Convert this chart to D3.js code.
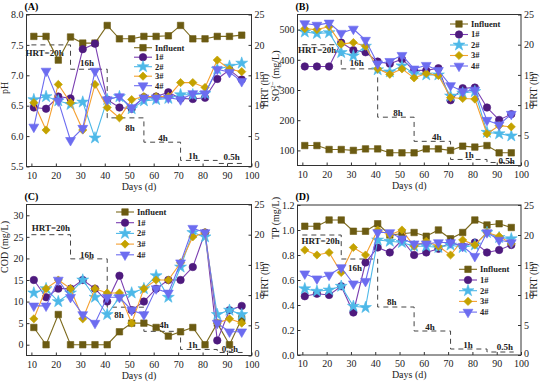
<!doctype html>
<html>
<head>
<style>
  body { margin: 0; background: #fff; }
  svg text { font-family: "Liberation Serif", "Times New Roman", serif; }
</style>
</head>
<body>
<svg width="550" height="384"></svg>
<script src="https://cdnjs.cloudflare.com/ajax/libs/d3/7.8.5/d3.min.js"></script>
<script>
// sampling days
var days = [11, 16, 21, 26, 31, 36, 41, 46, 51, 56, 61, 66, 71, 76, 81, 86, 91, 96];
var seriesNames = ["Influent", "1#", "2#", "3#", "4#"];

// HRT steps (right axis)
var hrtDays  = [10, 26, 41, 56, 71, 86, 97];
var hrtHours = [20, 16, 8, 4, 1, 0.5, 0.5];
var hrtText  = ["HRT=20h", "16h", "8h", "4h", "1h", "0.5h"];

// (A) pH
var phInf = [7.64, 7.64, 7.25, 7.63, 7.53, 7.53, 7.82, 7.6, 7.6, 7.64, 7.64, 7.65, 7.82, 7.6, 7.6, 7.64, 7.64, 7.66];
var ph1   = [6.47, 6.45, 6.65, 6.62, 7.43, 7.52, 6.6, 6.47, 6.45, 6.64, 6.65, 6.72, 6.62, 6.61, 6.63, 6.94, 7.09, 6.93];
var ph2   = [6.6, 6.65, 6.58, 6.52, 6.56, 5.97, 6.6, 6.65, 6.45, 6.58, 6.6, 6.62, 6.68, 6.68, 6.7, 7.1, 7.15, 7.2];
var ph3   = [6.55, 6.1, 6.85, 6.55, 6.1, 6.85, 6.47, 6.3, 6.6, 6.65, 6.65, 6.65, 6.88, 6.88, 6.8, 7.25, 7.1, 7.06];
var ph4   = [6.15, 7.07, 6.58, 5.93, 6.13, 7.07, 6.6, 6.65, 6.47, 6.63, 6.63, 6.63, 6.6, 6.7, 6.7, 7.1, 7.05, 6.9];

// (B) SO4 2-
var soInf = [116, 116, 103, 103, 100, 105, 105, 92, 92, 92, 105, 105, 100, 114, 111, 116, 92, 92];
var so1   = [378, 378, 378, 457, 432, 425, 394, 387, 402, 365, 365, 372, 266, 306, 308, 242, 201, 220];
var so2   = [492, 487, 490, 424, 413, 445, 367, 360, 380, 355, 350, 350, 280, 290, 295, 160, 155, 148];
var so3   = [503, 500, 510, 452, 457, 445, 370, 352, 370, 340, 355, 348, 275, 272, 270, 155, 182, 178];
var so4   = [520, 515, 522, 488, 502, 465, 387, 395, 415, 370, 382, 365, 315, 295, 300, 200, 185, 220];

// (C) COD
var codInf = [4, 0, 7, 0, 0, 0, 0, 3, 5, 5, 4, 2, 3, 4, 0, 5, 0, 6];
var cod1   = [15, 11, 13, 13, 15, 13, 10, 16, 8, 10, 13, 15, 15, 18, 26, 1, 8, 9];
var cod2   = [12, 13, 10, 12, 15, 11, 7, 11, 12, 13, 16, 11, 18, 26, 25, 7, 8, 7];
var cod3   = [6, 13, 15, 13, 6, 13, 12, 12, 5, 13, 15, 15, 19, 25, 26, 5, 6, 5];
var cod4   = [9, 9, 15, 11, 7, 5, 11, 11, 8, 7, 13, 12, 19, 27, 26, 5, 3, 3];

// (D) TP
var tpInf = [1.03, 1.03, 1.08, 1.08, 0.99, 0.99, 1.05, 0.96, 0.97, 0.98, 0.95, 1.0, 0.93, 0.98, 1.08, 1.04, 1.05, 1.02];
var tp1   = [0.47, 0.49, 0.48, 0.55, 0.34, 0.74, 0.86, 0.82, 0.92, 0.8, 0.82, 0.85, 0.9, 0.87, 0.9, 0.82, 0.84, 0.88];
var tp2   = [0.53, 0.51, 0.52, 0.55, 0.39, 0.38, 0.92, 0.91, 0.9, 0.87, 0.87, 0.86, 0.88, 0.86, 0.88, 0.98, 0.94, 0.93];
var tp3   = [0.84, 0.8, 0.82, 0.66, 0.86, 0.8, 1.0, 0.96, 1.0, 0.87, 0.91, 0.87, 0.8, 0.92, 0.88, 0.98, 0.95, 0.89];
var tp4   = [0.65, 0.61, 0.64, 0.7, 0.57, 0.59, 0.98, 0.98, 0.93, 0.89, 0.89, 0.9, 0.9, 0.87, 0.79, 0.98, 0.92, 0.9];

var styles = [
  { fill: "#6b5b12", line: "#7d6b1e", type: d3.symbolSquare, size: 42, rot: 0 },
  { fill: "#4e1a7e", line: "#7a3db0", type: d3.symbolCircle, size: 44, rot: 0 },
  { fill: "#4db8e8", line: "#4db8e8", type: d3.symbolStar, size: 44, rot: 0 },
  { fill: "#c4a200", line: "#f5a030", type: d3.symbolSquare, size: 34, rot: 45 },
  { fill: "#6c6cf0", line: "#6c6cf0", type: d3.symbolTriangle, size: 42, rot: 180 }
];

var panels = [
  { title: "(A)", box: [26.5, 251.5, 14.5, 166.5], ydom: [5.5, 8], yticks: d3.range(5.5, 8.01, 0.5), fmt: ".1f",
    ylabel: "pH", ylabelY: 88, series: [phInf, ph1, ph2, ph3, ph4], legend: [143, 47.7, 9.5],
    hrtPos: [[15.4, 18.7], [32.7, 17.0], [50.3, 6.3], [63.8, 4.7], [76.1, 1.7], [91.9, 1.6]] },
  { title: "(B)", box: [297.5, 521, 14.5, 165.5], ydom: [50, 550], yticks: d3.range(100, 501, 100), fmt: "d",
    ylabel: "so4", ylabelY: 76, series: [soInf, so1, so2, so3, so4], legend: [459, 24, 10.5],
    hrtPos: [[16.1, 19.1], [32.4, 17.0], [49.4, 8.7], [65.3, 4.8], [78.6, 1.74], [94.1, 0.75]] },
  { title: "(C)", box: [26.5, 251.5, 204.5, 355.5], ydom: [-2.5, 32.5], yticks: d3.range(0, 31, 5), fmt: "d",
    ylabel: "COD (mg/L)", ylabelY: 247, series: [codInf, cod1, cod2, cod3, cod4], legend: [125, 212, 10.7],
    hrtPos: [[18, 21.2], [32.7, 16.7], [45.8, 6.7], [64.2, 5.1], [76, 1.8], [91.2, 1.1]] },
  { title: "(D)", box: [297.5, 521, 205, 355], ydom: [0, 1.2], yticks: d3.range(0, 1.21, 0.2), fmt: ".1f",
    ylabel: "TP (mg/L)", ylabelY: 218, series: [tpInf, tp1, tp2, tp3, tp4], legend: [468, 269.3, 10.7],
    hrtPos: [[17.5, 19], [31.7, 14.5], [46.8, 8.8], [62.5, 4.7], [78.2, 1.7], [93.4, 1.3]] }
];

var svg = d3.select("svg");

function marker(g, st, x, y) {
  g.append("path")
    .attr("d", d3.symbol().type(st.type).size(st.size)())
    .attr("transform", "translate(" + x + "," + y + ") rotate(" + st.rot + ")")
    .attr("fill", st.fill)
    .attr("stroke", st.fill)
    .attr("stroke-width", 0.6);
}

panels.forEach(function(p) {
  var b = p.box;
  var x = d3.scaleLinear().domain([8, 100]).range([b[0], b[1]]);
  var y = d3.scaleLinear().domain(p.ydom).range([b[3], b[2]]);
  var yr = d3.scaleLinear().domain([0, 25]).range([b[3], b[2]]);
  var g = svg.append("g");

  // HRT step line
  var pts = hrtDays.map(function(d, i) { return [d, hrtHours[i]]; });
  g.append("path")
    .datum(pts)
    .attr("d", d3.line().curve(d3.curveStepAfter).x(function(d) { return x(d[0]); }).y(function(d) { return yr(d[1]); }))
    .attr("fill", "none")
    .attr("stroke", "#444")
    .attr("stroke-width", 1)
    .attr("stroke-dasharray", "5,4");

  hrtText.forEach(function(t, i) {
    g.append("text")
      .attr("x", x(p.hrtPos[i][0]))
      .attr("y", yr(p.hrtPos[i][1]))
      .attr("dy", "0.35em")
      .attr("text-anchor", "middle")
      .style("font-size", "9px")
      .style("font-weight", "bold")
      .attr("fill", "#222")
      .text(t);
  });

  // series
  p.series.forEach(function(vals, si) {
    var st = styles[si];
    var sg = g.append("g");
    sg.append("path")
      .datum(vals)
      .attr("d", d3.line().x(function(d, i) { return x(days[i]); }).y(function(d) { return y(d); }))
      .attr("fill", "none")
      .attr("stroke", st.line)
      .attr("stroke-width", 1.1);
    vals.forEach(function(v, i) { marker(sg, st, x(days[i]), y(v)); });
  });

  // axes
  var ax = function(a) {
    a.attr("font-family", null);
    a.selectAll("text").attr("fill", "#222").style("font-size", "10px");
    a.selectAll("line").attr("stroke", "#333");
    a.select(".domain").remove();
  };
  g.append("g").attr("transform", "translate(0," + b[3] + ")")
    .call(d3.axisBottom(x).tickValues(d3.range(10, 101, 10)).tickSizeInner(-3).tickSizeOuter(0).tickPadding(5)).call(ax);
  g.append("g").attr("transform", "translate(" + b[0] + ",0)")
    .call(d3.axisLeft(y).tickValues(p.yticks).tickFormat(d3.format(p.fmt)).tickSizeInner(-3).tickSizeOuter(0).tickPadding(3)).call(ax);
  var ra = g.append("g").attr("transform", "translate(" + b[1] + ",0)")
    .call(d3.axisRight(yr).tickValues(d3.range(0, 26, 5)).tickSizeInner(-3).tickSizeOuter(0).tickPadding(3)).call(ax);
  ra.selectAll("text").filter(function(d) { return d === 0; }).attr("dy", "0.1em");

  g.append("rect")
    .attr("x", b[0]).attr("y", b[2])
    .attr("width", b[1] - b[0]).attr("height", b[3] - b[2])
    .attr("fill", "none").attr("stroke", "#333").attr("stroke-width", 1);

  // titles
  g.append("text").attr("x", b[0] - 2).attr("y", b[2] - 5)
    .style("font-size", "10px").style("font-weight", "bold").text(p.title);
  g.append("text").attr("x", (b[0] + b[1]) / 2).attr("y", b[3] + 23)
    .attr("text-anchor", "middle").style("font-size", "10px").attr("fill", "#222").text("Days (d)");

  var yl = g.append("text")
    .attr("transform", "translate(" + (b[0] - 19) + "," + p.ylabelY + ") rotate(-90)")
    .attr("text-anchor", "middle").style("font-size", "10px").attr("fill", "#222");
  if (p.ylabel === "so4") {
    yl.append("tspan").text("SO");
    yl.append("tspan").attr("dy", 2.5).style("font-size", "7px").text("4");
    yl.append("tspan").attr("dy", -6.5).attr("dx", -3.5).style("font-size", "7px").text("2\u2212");
    yl.append("tspan").attr("dy", 4).text(" (mg/L)");
  } else {
    yl.text(p.ylabel);
  }
  g.append("text")
    .attr("transform", "translate(" + (b[1] + 16) + "," + ((b[2] + b[3]) / 2) + ") rotate(-90)")
    .attr("text-anchor", "middle").style("font-size", "10px").attr("fill", "#222").text("HRT (h)");

  // legend
  var lg = g.append("g");
  seriesNames.forEach(function(n, i) {
    var st = styles[i];
    var lx = p.legend[0], ly = p.legend[1] + i * p.legend[2];
    lg.append("line").attr("x1", lx - 9).attr("x2", lx + 9).attr("y1", ly).attr("y2", ly)
      .attr("stroke", st.line).attr("stroke-width", 1.1);
    marker(lg, st, lx, ly);
    lg.append("text").attr("x", lx + 12).attr("y", ly).attr("dy", "0.35em")
      .style("font-size", "8.5px").style("font-weight", "bold").attr("fill", "#222").text(n);
  });
});
</script>
</body>
</html>
